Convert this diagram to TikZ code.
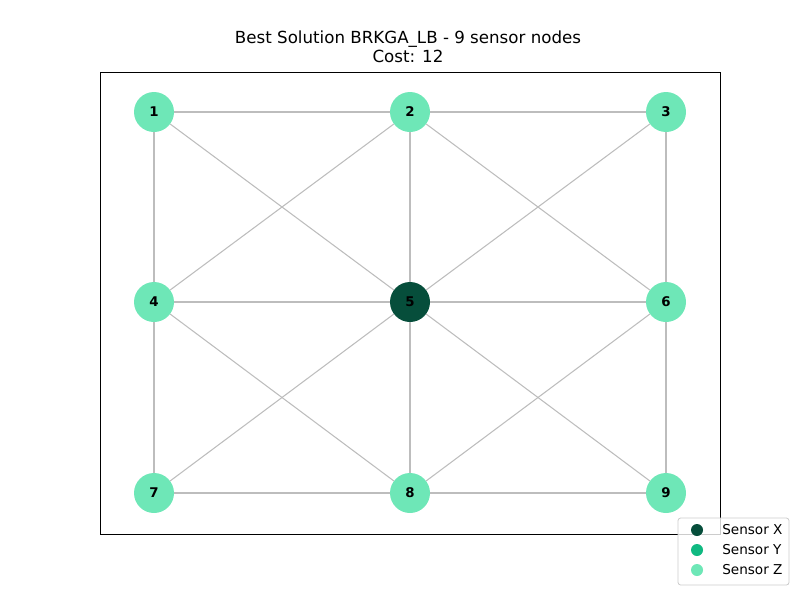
\documentclass[tikz,border=0pt]{standalone}
\usepackage{fontspec}
\setmainfont{DejaVu Sans}
\definecolor{sx}{HTML}{064E3B}
\definecolor{sy}{HTML}{10B981}
\definecolor{sz}{HTML}{6EE7B7}
\definecolor{edgegray}{HTML}{BDBDBD}
\begin{document}
\begin{tikzpicture}[x=0.75pt,y=-0.75pt,
  sensor/.style={circle,minimum size=30pt,inner sep=0pt,font=\fontsize{10}{12}\selectfont\bfseries},
  link/.style={draw=edgegray,line width=0.8pt},
  legmark/.style={circle,minimum size=9pt,inner sep=0pt},
  legtext/.style={anchor=west,font=\fontsize{10.2}{12}\selectfont,inner sep=0pt}]
\useasboundingbox (0,0) rectangle (800,600);
\node[font=\fontsize{12.5}{14.5}\selectfont,align=center] (title) at (408,47) {Best Solution BRKGA\_LB - 9 sensor nodes\\Cost: 12};
\draw[line width=0.6pt] (100,72) rectangle (720,534);
\node[sensor,fill=sz] (n1) at (154,112) {1};
\node[sensor,fill=sz] (n2) at (410,112) {2};
\node[sensor,fill=sz] (n3) at (666,112) {3};
\node[sensor,fill=sz] (n4) at (154,302) {4};
\node[sensor,fill=sx] (n5) at (410,302) {5};
\node[sensor,fill=sz] (n6) at (666,302) {6};
\node[sensor,fill=sz] (n7) at (154,493) {7};
\node[sensor,fill=sz] (n8) at (410,493) {8};
\node[sensor,fill=sz] (n9) at (666,493) {9};
\foreach \a/\b in {n1/n2,n2/n3,n4/n5,n5/n6,n7/n8,n8/n9,n1/n4,n4/n7,n2/n5,n5/n8,n3/n6,n6/n9,n1/n5,n2/n4,n2/n6,n3/n5,n4/n8,n5/n7,n5/n9,n6/n8}
  \draw[link] (\a) -- (\b);
% legend
\draw[draw=black!20,fill=white,fill opacity=0.8,rounded corners=2pt,line width=0.6pt] (678,518) rectangle (789,585);
\node[legmark,fill=sx] (lx) at (697,530) {};
\node[legmark,fill=sy] (ly) at (697,550) {};
\node[legmark,fill=sz] (lz) at (697,570) {};
\node[legtext] (tx) at (722,530) {Sensor X};
\node[legtext] (ty) at (722,550) {Sensor Y};
\node[legtext] (tz) at (722,570) {Sensor Z};
\end{tikzpicture}
\end{document}
